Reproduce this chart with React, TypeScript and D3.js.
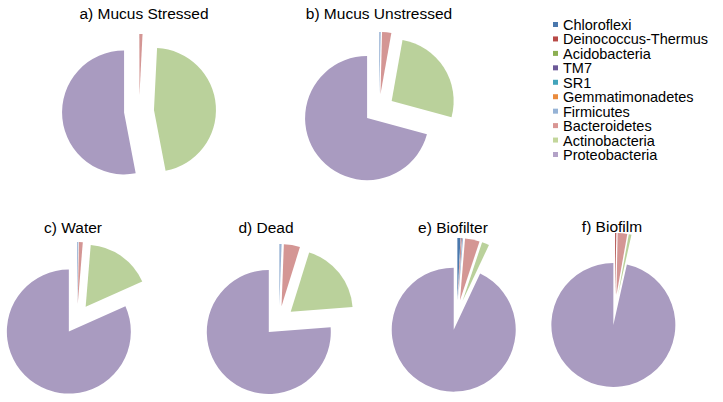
import React from "react";
import * as d3 from "d3";

const categories = [
  "Chloroflexi",
  "Deinococcus-Thermus",
  "Acidobacteria",
  "TM7",
  "SR1",
  "Gemmatimonadetes",
  "Firmicutes",
  "Bacteroidetes",
  "Actinobacteria",
  "Proteobacteria",
];

const sampleTitles = [
  "a) Mucus Stressed",
  "b) Mucus Unstressed",
  "c) Water",
  "d) Dead",
  "e) Biofilter",
  "f) Biofilm",
];

const mucusStressed = [0, 0.1, 0, 0, 0, 0, 0, 0.7, 46.2, 53.0];
const mucusUnstressed = [0, 0, 0, 0, 0, 0, 0.4, 2.4, 26.4, 70.8];
const water = [0, 0, 0, 0, 0, 0, 0.3, 1.0, 17.0, 81.7];
const dead = [0, 0, 0, 0, 0, 0, 0.6, 4.2, 19.0, 76.2];
const biofilter = [0.8, 0.2, 0, 0, 0, 0, 0.3, 3.8, 1.9, 93.0];
const biofilm = [0, 0.3, 0, 0, 0, 0, 0, 2.5, 0.7, 96.5];

const samples = [mucusStressed, mucusUnstressed, water, dead, biofilter, biofilm];

const legendColors = [
  "#4a78ad",
  "#b84a47",
  "#8caf52",
  "#6c5998",
  "#42a4bb",
  "#ea8b3d",
  "#96b3d6",
  "#d99694",
  "#c3d69b",
  "#b3a2c7",
];
const pieColors = [
  "#4a78ad",
  "#b04e4a",
  "#8caf52",
  "#6c5998",
  "#42a4bb",
  "#ea8b3d",
  "#9bb5d6",
  "#d49694",
  "#bad19b",
  "#a99bc0",
];

// layout (pixels)
const centers: [number, number][] = [
  [139, 111],
  [379, 109],
  [77, 319],
  [279, 321],
  [457, 315],
  [615, 310],
];
const titlePos: [number, number][] = [
  [144, 19],
  [379, 19],
  [73, 233],
  [266, 233],
  [453, 233],
  [612, 232],
];
const R = 62;
const EXPLODE = 15;

export default function App() {
  const pie = d3
    .pie<number>()
    .sort(null)
    .value((d) => d)
    .startAngle(0)
    .endAngle(2 * Math.PI);
  const arc = d3.arc<d3.PieArcDatum<number>>().innerRadius(0).outerRadius(R);
  const colorScale = d3.scaleOrdinal<string, string>().domain(categories).range(pieColors);
  const legendScale = d3.scaleOrdinal<string, string>().domain(categories).range(legendColors);
  const legendY = d3
    .scalePoint<string>()
    .domain(categories)
    .range([25, 155]);

  return (
    <svg
      width={723}
      height={402}
      style={{ position: "absolute", left: 0, top: 0, background: "#fff" }}
      fontFamily="Liberation Sans, Arial, sans-serif"
    >
      <rect width={723} height={402} fill="#fff" />
      {samples.map((vals, i) => {
        const arcs = pie(vals);
        const [cx, cy] = centers[i];
        return (
          <g key={i}>
            <g transform={`translate(${cx},${cy})`}>
              {arcs.map((a, j) => {
                if (a.value <= 0) return null;
                const mid = (a.startAngle + a.endAngle) / 2;
                const dx = EXPLODE * Math.sin(mid);
                const dy = -EXPLODE * Math.cos(mid);
                return (
                  <path
                    key={j}
                    d={arc(a) || ""}
                    transform={`translate(${dx},${dy})`}
                    fill={colorScale(categories[j])}
                  />
                );
              })}
            </g>
            <text
              x={titlePos[i][0]}
              y={titlePos[i][1]}
              textAnchor="middle"
              fontSize={15.5}
              fill="#000"
            >
              {sampleTitles[i]}
            </text>
          </g>
        );
      })}
      {categories.map((c) => (
        <g key={c}>
          <rect
            x={553}
            y={(legendY(c) || 0) - 3}
            width={5}
            height={5}
            fill={legendScale(c)}
          />
          <text x={563} y={(legendY(c) || 0) + 5} fontSize={14.5} fill="#000">
            {c}
          </text>
        </g>
      ))}
    </svg>
  );
}
